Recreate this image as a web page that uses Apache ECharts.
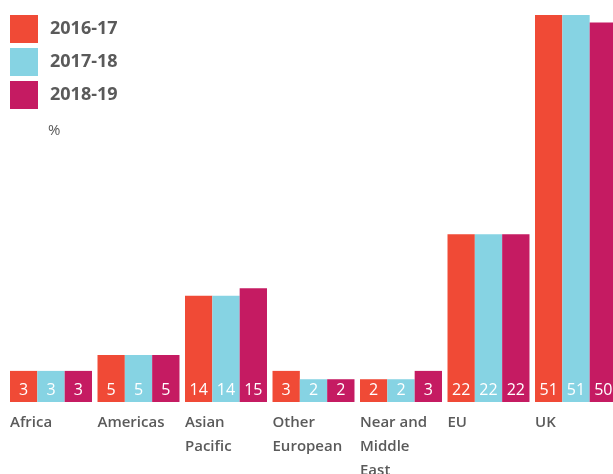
<!DOCTYPE html>
<html><head><meta charset="utf-8">
<script src="https://cdn.jsdelivr.net/npm/echarts@6/dist/echarts.min.js"></script>
<style>html,body{margin:0;padding:0;background:#fff;overflow:hidden}#c{width:620px;height:474px}</style>
</head><body><div id="c"></div>
<script>
// Categories and series names
const categories = ['Africa', 'Americas', 'Asian\nPacific', 'Other\nEuropean', 'Near and\nMiddle\nEast', 'EU', 'UK'];
const seriesNames = ['2016-17', '2017-18', '2018-19'];
// Printed values (labels on the bars, %)
const labels2016 = [3, 5, 14, 3, 2, 22, 51];
const labels2017 = [3, 5, 14, 2, 2, 22, 51];
const labels2018 = [3, 5, 15, 2, 3, 22, 50];
// Bar heights as drawn in the picture (same % scale)
const heights2016 = [4.1, 6.2, 14.0, 4.1, 3.0, 22.1, 51];
const heights2017 = [4.1, 6.2, 14.0, 3.0, 3.0, 22.1, 51];
const heights2018 = [4.1, 6.2, 15.0, 3.0, 4.1, 22.1, 50];
const unitLabel = '%';

const colors = ['#F04A36', '#86D3E3', '#C51B62'];
const FONT = '"Open Sans", sans-serif';
const TXT = '#5a5a5a';

const chart = echarts.init(document.getElementById('c'), null, {renderer: 'canvas'});

function barSeries(name, heights, labels, color) {
  return {
    name: name,
    type: 'bar',
    data: heights,
    itemStyle: {color: color},
    barGap: '0%',
    barCategoryGap: '6.3%',
    animation: false,
    label: {
      show: true,
      position: 'insideBottom',
      distance: 4,
      color: '#fff',
      fontFamily: FONT,
      fontSize: 16,
      fontWeight: 'normal',
      formatter: p => String(labels[p.dataIndex])
    }
  };
}

chart.setOption({
  animation: false,
  color: colors,
  textStyle: {fontFamily: FONT},
  title: {
    text: unitLabel,
    left: 48, top: 123, padding: 0,
    textStyle: {fontFamily: FONT, fontSize: 15, fontWeight: 'normal', color: TXT}
  },
  legend: {
    orient: 'vertical',
    left: 10, top: 15, padding: 0,
    itemWidth: 28, itemHeight: 28, itemGap: 5,
    icon: 'rect',
    data: seriesNames,
    textStyle: {fontFamily: FONT, fontSize: 18, fontWeight: 'bold', color: TXT, padding: [0, 0, 0, 7]}
  },
  grid: {left: 7.25, right: 0.25, top: 15, bottom: 72, containLabel: false, outerBoundsMode: 'none'},
  xAxis: {
    type: 'category',
    data: categories,
    axisLine: {show: false},
    axisTick: {show: false},
    axisLabel: {
      interval: 0,
      margin: 9,
      align: 'center',
      verticalAlign: 'top',
      formatter: v => v.split('\n').map(s => '{a|' + s + '}').join('\n'),
      rich: {
        a: {width: 82, align: 'left', fontFamily: FONT, fontSize: 15, fontWeight: 600, color: TXT, lineHeight: 24}
      }
    }
  },
  yAxis: {
    type: 'value', min: 0, max: 51, show: false,
    splitLine: {show: false}
  },
  series: [
    barSeries(seriesNames[0], heights2016, labels2016, colors[0]),
    barSeries(seriesNames[1], heights2017, labels2017, colors[1]),
    barSeries(seriesNames[2], heights2018, labels2018, colors[2])
  ]
});
</script></body></html>
